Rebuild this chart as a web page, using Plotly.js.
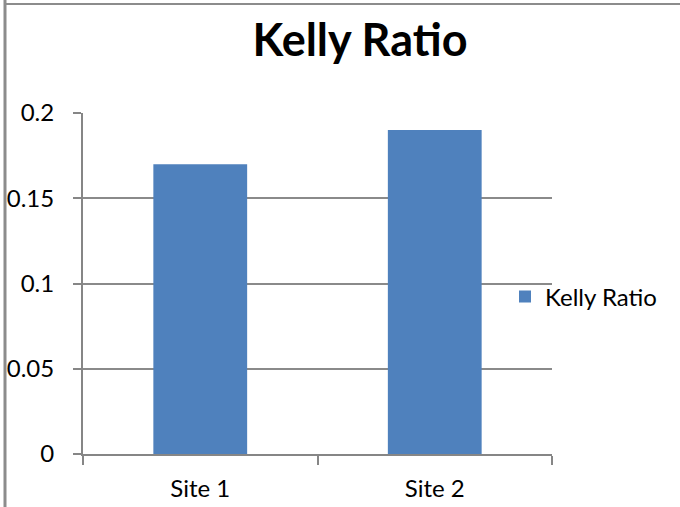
<!DOCTYPE html>
<html>
<head>
<meta charset="utf-8">
<script src="https://cdn.plot.ly/plotly-3.0.1.min.js"></script>
<style>html,body{margin:0;padding:0;background:#fff;}#chart{width:680px;height:507px;}</style>
</head>
<body>
<div id="chart"></div>
<script>
var categories = ["Site 1", "Site 2"];
var kellyRatio = [0.17, 0.19];
var seriesName = "Kelly Ratio";
var chartTitle = "Kelly Ratio";
var yTickVals = [0, 0.05, 0.1, 0.15, 0.2];
var yTickText = ["0", "0.05", "0.1", "0.15", "0.2"];

var L = 83, R = 552, T = 113, B = 454, W = 680, H = 507;
function px(x){ return (x - L) / (R - L); }
function py(y){ return (B - y) / (B - T); }

var trace = {
  type: "bar",
  x: categories,
  y: kellyRatio,
  name: seriesName,
  marker: {color: "#4F81BD", line: {width: 0}},
  showlegend: true
};

var layout = {
  width: W, height: H,
  margin: {l: L, r: W - R, t: T, b: H - B, pad: 0},
  paper_bgcolor: "#ffffff",
  plot_bgcolor: "#ffffff",
  font: {family: "Lato, 'Open Sans', sans-serif", size: 24, color: "#000"},
  title: {
    text: "<b>" + chartTitle + "</b>",
    font: {family: "Lato, 'Open Sans', sans-serif", size: 45, color: "#000"},
    x: 360 / W, xref: "container", xanchor: "center",
    y: 1 - 40 / H, yref: "container", yanchor: "middle"
  },
  bargap: 0.6,
  xaxis: {
    type: "category",
    range: [-0.5, 1.5],
    showgrid: false,
    showline: true, linecolor: "#868686", linewidth: 2,
    ticks: "outside", tickson: "boundaries", ticklen: 9, tickcolor: "#868686", tickwidth: 2,
    ticklabelstandoff: 12,
    tickfont: {size: 24},
    fixedrange: true
  },
  yaxis: {
    range: [0, 0.2],
    tickvals: yTickVals, ticktext: yTickText,
    showgrid: true, gridcolor: "#8a8a8a", gridwidth: 2,
    zeroline: false,
    showline: true, linecolor: "#868686", linewidth: 2,
    ticks: "outside", ticklen: 8, tickcolor: "#868686", tickwidth: 2,
    ticklabelstandoff: 14,
    tickfont: {size: 24},
    fixedrange: true
  },
  legend: {
    x: px(505), xref: "paper", xanchor: "left",
    y: py(297), yanchor: "middle",
    font: {size: 24},
    bgcolor: "rgba(0,0,0,0)",
    itemwidth: 30
  },
  shapes: [
    {type: "line", xref: "paper", yref: "paper", x0: px(5), x1: px(5), y0: py(0), y1: py(507), line: {color: "#8c8c8c", width: 3}},
    {type: "line", xref: "paper", yref: "paper", x0: px(4), x1: px(680), y0: py(4), y1: py(4), line: {color: "#8c8c8c", width: 2}}
  ]
};

Plotly.newPlot("chart", [trace], layout, {displayModeBar: false, staticPlot: true});
</script>
</body>
</html>
